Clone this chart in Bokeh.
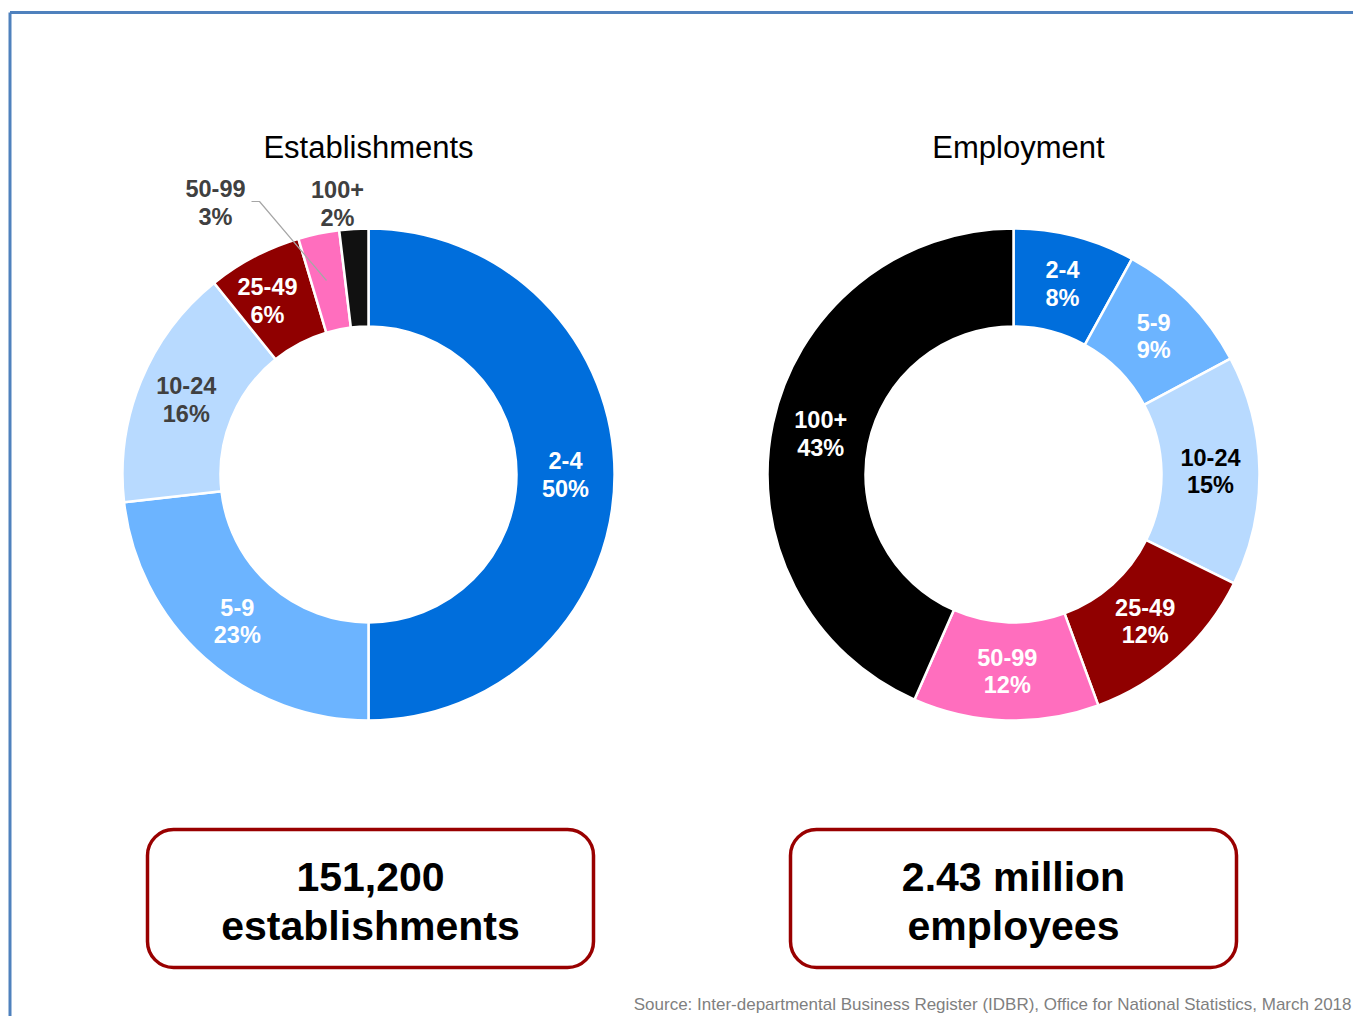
import numpy as np
from bokeh.plotting import figure
from bokeh.models import Range1d, BoxAnnotation
from bokeh.core.properties import value
from bokeh.embed import file_html
from bokeh.resources import INLINE

# ---------------- data ----------------
categories = ["2-4", "5-9", "10-24", "25-49", "50-99", "100+"]
establishments_share = [50.0, 23.2, 16.0, 6.2, 2.7, 1.9]
establishments_pct_labels = ["50%", "23%", "16%", "6%", "3%", "2%"]
employment_share = [8.0, 9.2, 15.1, 12.1, 12.2, 43.4]
employment_pct_labels = ["8%", "9%", "15%", "12%", "12%", "43%"]

titles = ["Establishments", "Employment"]
totals_line1 = ["151,200", "2.43 million"]
totals_line2 = ["establishments", "employees"]
source_text = ("Source: Inter-departmental Business Register (IDBR), "
               "Office for National Statistics, March 2018")

colors_est = ["#006EDC", "#6CB4FF", "#B8DAFF", "#900000", "#FF6EBE", "#111111"]
colors_emp = ["#006EDC", "#6CB4FF", "#B8DAFF", "#900000", "#FF6EBE", "#000000"]
label_colors_est = ["white", "white", "#404040", "white", "#404040", "#404040"]
label_colors_emp = ["white", "white", "black", "white", "white", "white"]

# ---------------- layout ----------------
W, H = 1353, 1016
FONT = "Liberation Sans"


def sx(x):  # reference x -> data x
    return x


def sy(y):  # reference y -> data y
    return H - y


p = figure(width=W, height=H, x_range=Range1d(0, W), y_range=Range1d(0, H),
           output_backend="svg", toolbar_location=None, min_border=0)
p.axis.visible = False
p.grid.visible = False
p.outline_line_color = None
p.background_fill_color = "white"
p.border_fill_color = "white"

# outer frame (top and left edges)
p.line([sx(9.5), sx(1400)], [sy(12), sy(12)], line_color="#4F81BD", line_width=3)
p.line([sx(9.5), sx(9.5)], [sy(12), sy(1100)], line_color="#4F81BD", line_width=3)

R_OUT, R_IN = 246, 148
R_LAB = (R_OUT + R_IN) / 2


def donut(cx_s, cy_s, shares, colors, pct_labels, label_colors, overrides):
    cx, cy = sx(cx_s), sy(cy_s)
    total = sum(shares)
    cum = np.cumsum([0] + list(shares)) / total * 2 * np.pi  # clockwise from top
    start = np.pi / 2 - cum[1:]
    end = np.pi / 2 - cum[:-1]
    p.annular_wedge(x=cx, y=cy, inner_radius=R_IN, outer_radius=R_OUT,
                    start_angle=list(start), end_angle=list(end),
                    fill_color=colors, line_color="white", line_width=2.5)
    mids = (cum[:-1] + cum[1:]) / 2
    for i, cat in enumerate(categories):
        if i in overrides:
            dx, dy = overrides[i]
            lx, ly = cx + dx, cy + dy
        else:
            lx = cx + R_LAB * np.sin(mids[i])
            ly = cy + R_LAB * np.cos(mids[i])
        for txt, off in ((cat, 14), (pct_labels[i], -14)):
            p.text(x=[lx], y=[ly + off], text=[txt], text_align="center",
                   text_baseline="middle", text_font=value(FONT),
                   text_font_style="bold", text_font_size="23.5px",
                   text_color=label_colors[i])


donut(368, 474, establishments_share, colors_est, establishments_pct_labels,
      label_colors_est, {3: (-101, 174), 4: (-153, 272), 5: (-31, 271)})
donut(1013, 474, employment_share, colors_emp, employment_pct_labels,
      label_colors_emp, {})

# leader line for 50-99
p.line([sx(251), sx(259), sx(326)], [sy(201), sy(201), sy(280)],
       line_color="#A6A6A6", line_width=1.2)

# titles
for t, x in zip(titles, [368, 1018]):
    p.text(x=[sx(x)], y=[sy(147)], text=[t], text_align="center",
           text_baseline="middle", text_font=value(FONT),
           text_font_size="31px", text_color="black")

# total boxes
for i, (l, r) in enumerate([(147, 593), (790, 1236)]):
    box = BoxAnnotation(left=sx(l), right=sx(r), top=sy(829), bottom=sy(967),
                        fill_color=None, fill_alpha=0.0,
                        line_color="#990000", line_alpha=1.0, line_width=3.5,
                        border_radius=26, level="underlay")
    p.add_layout(box)
    cxm = sx((l + r) / 2)
    p.text(x=[cxm], y=[sy(876)], text=[totals_line1[i]], text_align="center",
           text_baseline="middle", text_font=value(FONT),
           text_font_style="bold", text_font_size="41px", text_color="black")
    p.text(x=[cxm], y=[sy(925)], text=[totals_line2[i]], text_align="center",
           text_baseline="middle", text_font=value(FONT),
           text_font_style="bold", text_font_size="41px", text_color="black")

# source
p.text(x=[sx(1351)], y=[sy(1004)], text=[source_text], text_align="right",
       text_baseline="middle", text_font=value(FONT),
       text_font_size="17px", text_color="#7F7F7F")

open("out.html", "w").write(file_html(p, INLINE))
